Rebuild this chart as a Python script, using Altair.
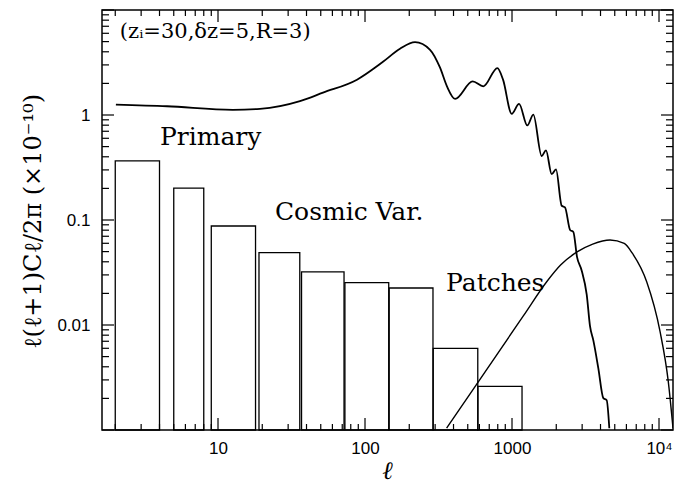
import altair as alt
import pandas as pd

# ---- data ----
bin_lo = [2, 5, 9, 19, 37, 73, 146, 291, 586]
bin_hi = [4, 8, 18, 36, 72, 145, 290, 585, 1170]
cv_value = [0.365, 0.201, 0.0877, 0.049, 0.032, 0.0253, 0.0225, 0.0060, 0.0026]

primary_l = [2.02, 4.5, 12.6, 19.3, 36.1, 51.8, 88.2, 132.5, 173, 219, 277, 324, 361, 410,
             540, 638, 795, 869, 995, 1117, 1271, 1396, 1592, 1703, 1862, 1992, 2178, 2294,
             2483, 2614, 2768, 2980, 3223, 3396, 3575, 3866, 4181, 4406, 4592]
primary_c = [1.257, 1.212, 1.12, 1.145, 1.357, 1.634, 2.17, 3.21, 4.27, 4.94, 4.18, 2.82, 1.875, 1.424,
             2.09, 1.875, 2.80, 2.17, 1.027, 1.277, 0.795, 1.01, 0.407, 0.461, 0.273, 0.304, 0.1367, 0.132,
             0.0804, 0.0769, 0.0446, 0.0329, 0.0195, 0.00968, 0.00713, 0.00387, 0.00201, 0.00192, 0.00104]

patches_l = [359, 585, 1194, 1722, 2140, 2770, 3540, 4645, 5800, 6600, 8245, 10160, 11560, 12450]
patches_c = [0.00104, 0.00283, 0.0122, 0.0258, 0.0372, 0.0497, 0.0590, 0.0646, 0.0598, 0.0480, 0.0258,
             0.00868, 0.0029, 0.00104]

x_major = [10, 100, 1000, 10000]
x_minor = [m * 10 ** k for k in range(0, 4) for m in range(2, 10) if m * 10 ** k <= 12450]
y_major = [0.001, 0.01, 0.1, 1, 10]
y_minor = [m * 10.0 ** k for k in range(-3, 1) for m in range(2, 10)]
y_labels = [0.01, 0.1, 1]

ann_text = ["Primary", "Cosmic Var.", "Patches"]
ann_l = [4.03, 24.4, 356]
ann_c = [0.514, 0.1, 0.0209]

title_text = ["(zᵢ=30,δz=5,R=3)"]
title_l = [2.15]
title_c = [5.43]

X_DOMAIN = [1.625, 12450]
Y_DOMAIN = [0.001, 10]
W, H = 571, 420

xs = alt.Scale(type="log", domain=X_DOMAIN, nice=False)
ys = alt.Scale(type="log", domain=Y_DOMAIN, nice=False)

bars_df = pd.DataFrame({"lo": bin_lo, "hi": bin_hi, "val": cv_value,
                        "base": [Y_DOMAIN[0]] * len(bin_lo)})
prim_df = pd.DataFrame({"l": primary_l, "c": primary_c})
patch_df = pd.DataFrame({"l": patches_l, "c": patches_c})
ann_df = pd.DataFrame({"l": ann_l, "c": ann_c, "t": ann_text})
title_df = pd.DataFrame({"l": title_l, "c": title_c, "t": title_text})

x_axis = alt.Axis(values=x_major, labelExpr="datum.value >= 10000 ? '10⁴' : format(datum.value, '~g')",
                  title="ℓ", grid=False, ticks=False, domain=False,
                  labelFont="Liberation Sans", labelFontSize=17, labelPadding=10, labelColor="black",
                  titleFont="DejaVu Serif", titleFontSize=25, titleFontStyle="italic",
                  titleFontWeight="bold", titlePadding=2, titleColor="black")
y_axis = alt.Axis(values=y_labels, format="~g", title="ℓ(ℓ+1)Cℓ/2π  (×10⁻¹⁰)",
                  grid=False, ticks=False, domain=False,
                  labelFont="Liberation Sans", labelFontSize=17, labelPadding=12, labelColor="black",
                  titleFont="DejaVu Serif", titleFontSize=24, titleFontWeight="normal",
                  titleColor="black", titleAngle=-90, titleBaseline="middle",
                  titleX=-69, titleY=H / 2 + 1)


def X(f):
    return alt.X(f, scale=xs, axis=x_axis)


def Y(f):
    return alt.Y(f, scale=ys, axis=y_axis)


bars = alt.Chart(bars_df).mark_rect(fill="white", fillOpacity=0, stroke="black", strokeWidth=1.3).encode(
    x=X("lo:Q"), x2="hi:Q", y=Y("val:Q"), y2="base:Q")

prim = alt.Chart(prim_df).mark_line(color="black", strokeWidth=1.8, interpolate="monotone", clip=True).encode(
    x=X("l:Q"), y=Y("c:Q"))
patch = alt.Chart(patch_df).mark_line(color="black", strokeWidth=1.4, interpolate="monotone", clip=True).encode(
    x=X("l:Q"), y=Y("c:Q"))


def xticks(vals, length):
    df = pd.DataFrame({"t": vals})
    base = alt.Chart(df).mark_rule(color="black", strokeWidth=1.2)
    bottom = base.encode(x=X("t:Q"), y=alt.value(H), y2=alt.value(H - length))
    top = base.encode(x=X("t:Q"), y=alt.value(0), y2=alt.value(length))
    return [bottom, top]


def yticks(vals, length):
    df = pd.DataFrame({"t": vals})
    base = alt.Chart(df).mark_rule(color="black", strokeWidth=1.2)
    left = base.encode(y=Y("t:Q"), x=alt.value(0), x2=alt.value(length))
    right = base.encode(y=Y("t:Q"), x=alt.value(W), x2=alt.value(W - length))
    return [left, right]


ticks = xticks(x_major, 12) + xticks(x_minor, 6) + yticks(y_major, 12) + yticks(y_minor, 7)

ann = alt.Chart(ann_df).mark_text(align="left", baseline="alphabetic", font="DejaVu Serif",
                                  fontSize=25, color="black").encode(
    x=X("l:Q"), y=Y("c:Q"), text="t:N")
ttl = alt.Chart(title_df).mark_text(align="left", baseline="alphabetic", font="DejaVu Serif",
                                    fontSize=21, color="black").encode(
    x=X("l:Q"), y=Y("c:Q"), text="t:N")

chart = alt.layer(bars, prim, patch, *ticks, ann, ttl).properties(
    width=W, height=H,
    autosize=alt.AutoSizeParams(type="none"),
    padding={"left": 94, "top": 2, "right": 8, "bottom": 55},
    background="white",
).configure_view(stroke="black", strokeWidth=1.5)

chart.save("out.html", embed_options={"renderer": "svg", "actions": False})
